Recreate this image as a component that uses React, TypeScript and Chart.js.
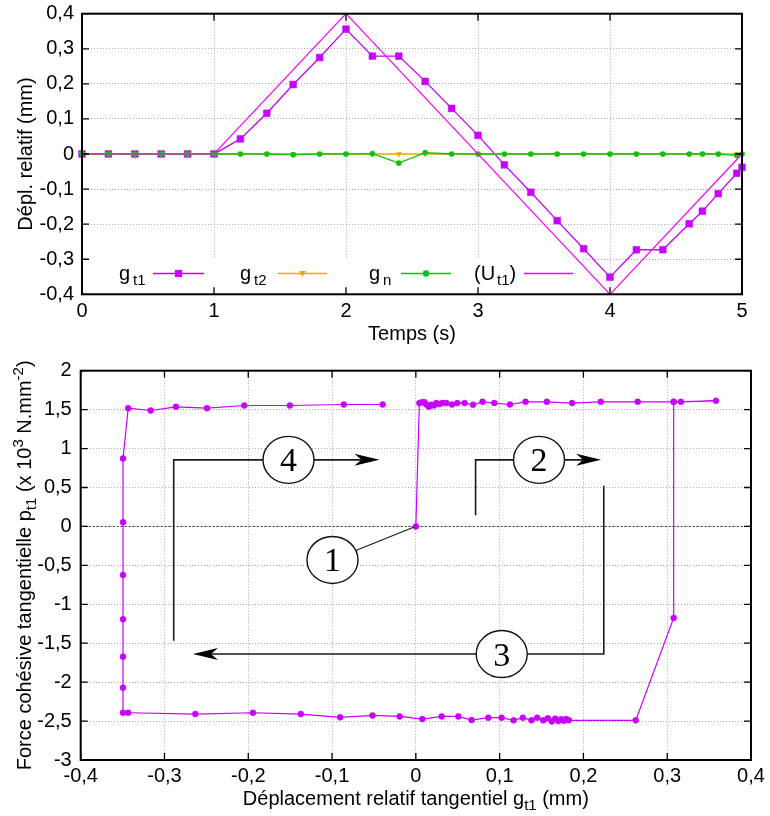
import React, { useEffect, useRef } from 'react';
import { Chart, registerables } from 'chart.js';

Chart.register(...registerables);

// ---------------- top chart data ----------------
const timeS = [0, 0.2, 0.4, 0.6, 0.8, 1, 1.2, 1.4, 1.6, 1.8, 2, 2.2, 2.4, 2.6, 2.8, 3, 3.2, 3.4, 3.6, 3.8, 4, 4.2, 4.4, 4.6, 4.7, 4.82, 4.96, 5];
const gT1 = [0, 0, 0, 0, 0, 0, 0.043, 0.116, 0.198, 0.275, 0.356, 0.279, 0.279, 0.207, 0.13, 0.053, -0.031, -0.109, -0.19, -0.27, -0.351, -0.273, -0.273, -0.199, -0.163, -0.113, -0.055, -0.038];
const gT2 = [0, 0, 0, 0, 0, 0, 0, 0, 0, 0, 0, 0, 0, 0, 0, 0, 0, 0, 0, 0, 0, 0, 0, 0, 0, 0, 0, 0];
const gN = [0, 0, 0, 0, 0, 0, 0, 0, -0.002, 0, 0, 0.001, -0.026, 0.004, 0, 0, 0, 0, 0, 0, 0, 0, 0, 0, 0, 0, -0.004, 0];
const uT1Time = [0, 1, 2, 4, 5];
const uT1 = [0, 0, 0.4, -0.4, 0];

const topXTicks = [0, 1, 2, 3, 4, 5];
const topYTicks = [-0.4, -0.3, -0.2, -0.1, 0, 0.1, 0.2, 0.3, 0.4];

// ---------------- bottom chart data ----------------
const loopG = [
  0, 0.0042, 0.0074, 0.0101, 0.0125, 0.0157, 0.0185, 0.0217, 0.0244, 0.028, 0.0316, 0.0364, 0.0431, 0.0495,
  0.0582, 0.0682, 0.0796, 0.0936, 0.1123, 0.1309, 0.1564, 0.1865, 0.2207, 0.2648, 0.3077, 0.3164, 0.3582,
  0.3077, 0.3077, 0.2624,
  0.1826, 0.1794, 0.1766, 0.1734, 0.1702, 0.1663, 0.1623, 0.1575, 0.152, 0.1448, 0.138, 0.1277, 0.1166,
  0.1023, 0.0864, 0.0666, 0.0507, 0.0308, 0.0077,
  -0.0193, -0.0518, -0.0903, -0.1373, -0.1945, -0.2632,
  -0.3433, -0.3495, -0.3495, -0.3495, -0.3495, -0.3495, -0.3495, -0.3495,
  -0.3433, -0.3165, -0.2863, -0.2493, -0.2048, -0.1504, -0.086, -0.0396,
];
const loopP = [
  0, 1.584, 1.596, 1.596, 1.566, 1.536, 1.562, 1.553, 1.584, 1.571, 1.584, 1.584, 1.566, 1.584,
  1.584, 1.562, 1.6, 1.584, 1.566, 1.6, 1.6, 1.584, 1.6, 1.6, 1.6, 1.6, 1.613,
  1.6, -1.176, -2.491,
  -2.49, -2.474, -2.496, -2.478, -2.5, -2.47, -2.504, -2.465, -2.49, -2.457, -2.491, -2.457, -2.491,
  -2.457, -2.457, -2.487, -2.44, -2.44, -2.474,
  -2.44, -2.427, -2.452, -2.41, -2.393, -2.41,
  -2.393, -2.393, -2.072, -1.673, -1.193, -0.623, 0.054, 0.872,
  1.519, 1.489, 1.536, 1.519, 1.553, 1.553, 1.566, 1.566,
];

const botXTicks = [-0.4, -0.3, -0.2, -0.1, 0, 0.1, 0.2, 0.3, 0.4];
const botYTicks = [-3, -2.5, -2, -1.5, -1, -0.5, 0, 0.5, 1, 1.5, 2];

// callouts (data coordinates of the bottom chart)
const calloutLabels = ['4', '2', '3'];
const calloutCenters = [[-0.152, 0.855], [0.147, 0.855], [0.1025, -1.639]];
const calloutLeads = [
  [[-0.289, -1.468], [-0.289, 0.855]],
  [[0.0713, 0.144], [0.0713, 0.855]],
  [[0.2243, 0.521], [0.2243, -1.639]],
];
const calloutTips = [-0.0435, 0.2211, -0.266];
const callout1Center = [-0.0995, -0.431];
const callout1Target = [0, 0];

// ---------------- styling ----------------
const SANS = "'Liberation Sans', Arial, Helvetica, sans-serif";
const SERIF = "'Liberation Serif', 'DejaVu Serif', serif";
const FS = 20;
const C_GT1 = '#c800ff';
const C_GT2 = '#ffa500';
const C_GN = '#10c010';
const C_UT1 = '#ff00ff';
const C_LOOP = '#c800ff';
const GRID = '#a8a8a8';

type Seg = { t: string; s?: 'sub' | 'sup'; dx?: number };

function segFont(size: number, s?: string) {
  return `${s ? size * 0.75 : size}px ${SANS}`;
}
function richWidth(ctx: CanvasRenderingContext2D, segs: Seg[], size: number) {
  let w = 0;
  for (const g of segs) {
    ctx.font = segFont(size, g.s);
    w += (g.dx || 0) + ctx.measureText(g.t).width;
  }
  return w;
}
function drawRich(ctx: CanvasRenderingContext2D, segs: Seg[], x: number, y: number, size: number, center: boolean) {
  let cx = center ? x - richWidth(ctx, segs, size) / 2 : x;
  ctx.textAlign = 'left';
  ctx.textBaseline = 'alphabetic';
  for (const g of segs) {
    cx += g.dx || 0;
    ctx.font = segFont(size, g.s);
    const dy = g.s === 'sub' ? size * 0.23 : g.s === 'sup' ? -size * 0.42 : 0;
    ctx.fillText(g.t, cx, y + dy);
    cx += ctx.measureText(g.t).width;
  }
}

function fmt(v: number) {
  const r = Math.round(v * 10) / 10;
  if (Math.abs(r) < 1e-9) return '0';
  return Number.isInteger(r) ? String(r) : r.toFixed(1).replace('.', ',');
}

function drawFrame(chart: any) {
  const { ctx, chartArea: a, scales } = chart;
  const xs = scales.x;
  const ys = scales.y;
  ctx.save();
  ctx.strokeStyle = '#000';
  ctx.lineWidth = 1.3;
  ctx.beginPath();
  for (const t of xs.ticks) {
    const p = xs.getPixelForValue(t.value);
    ctx.moveTo(p, a.bottom);
    ctx.lineTo(p, a.bottom - 7);
    ctx.moveTo(p, a.top);
    ctx.lineTo(p, a.top + 7);
  }
  for (const t of ys.ticks) {
    const p = ys.getPixelForValue(t.value);
    ctx.moveTo(a.left, p);
    ctx.lineTo(a.left + 7, p);
    ctx.moveTo(a.right, p);
    ctx.lineTo(a.right - 7, p);
  }
  ctx.stroke();
  ctx.lineWidth = 2;
  ctx.strokeRect(a.left, a.top, a.right - a.left, a.bottom - a.top);
  ctx.restore();
}

function drawYTitle(ctx: CanvasRenderingContext2D, segs: Seg[], x: number, cy: number) {
  ctx.save();
  ctx.translate(x, cy);
  ctx.rotate(-Math.PI / 2);
  ctx.fillStyle = '#000';
  drawRich(ctx, segs, 0, 0, FS, true);
  ctx.restore();
}

function marker(ctx: CanvasRenderingContext2D, kind: string, x: number, y: number, color: string) {
  ctx.fillStyle = color;
  ctx.beginPath();
  if (kind === 'rect') {
    ctx.rect(x - 3.6, y - 3.6, 7.2, 7.2);
  } else if (kind === 'tri') {
    ctx.moveTo(x - 3.5, y - 2.5);
    ctx.lineTo(x + 3.5, y - 2.5);
    ctx.lineTo(x, y + 3.5);
    ctx.closePath();
  } else {
    ctx.arc(x, y, 3.2, 0, Math.PI * 2);
  }
  ctx.fill();
}

const legendEntries = [
  { segs: [{ t: 'g' }, { t: 't1', s: 'sub', dx: 3 }] as Seg[], tx: 119, l0: 153, l1: 204, color: C_GT1, mk: 'rect' },
  { segs: [{ t: 'g' }, { t: 't2', s: 'sub', dx: 3 }] as Seg[], tx: 240, l0: 278, l1: 327, color: C_GT2, mk: 'tri' },
  { segs: [{ t: 'g' }, { t: 'n', s: 'sub', dx: 3 }] as Seg[], tx: 369, l0: 401, l1: 451, color: C_GN, mk: 'circle' },
  { segs: [{ t: '(U' }, { t: 't1', s: 'sub', dx: 2 }, { t: ')' }] as Seg[], tx: 474, l0: 524, l1: 573, color: C_UT1, mk: '' },
];

const topPlugin = {
  id: 'topDeco',
  beforeDatasetsDraw(chart: any) {
    const { ctx, chartArea: a } = chart;
    ctx.save();
    ctx.fillStyle = '#fff';
    ctx.fillRect(a.left, 258, 583 - a.left, a.bottom - 258);
    ctx.restore();
  },
  afterDraw(chart: any) {
    const { ctx, chartArea: a } = chart;
    drawFrame(chart);
    ctx.save();
    ctx.fillStyle = '#000';
    ctx.font = `${FS}px ${SANS}`;
    ctx.textAlign = 'center';
    ctx.textBaseline = 'alphabetic';
    ctx.fillText('Temps (s)', (a.left + a.right) / 2, 340);
    drawYTitle(ctx, [{ t: 'Dépl. relatif (mm)' }], 32, (a.top + a.bottom) / 2);
    // legend
    for (const e of legendEntries) {
      ctx.fillStyle = '#000';
      drawRich(ctx, e.segs, e.tx, 280, FS, false);
      ctx.strokeStyle = e.color;
      ctx.lineWidth = 1.3;
      ctx.beginPath();
      ctx.moveTo(e.l0, 273.5);
      ctx.lineTo(e.l1, 273.5);
      ctx.stroke();
      if (e.mk) marker(ctx, e.mk, (e.l0 + e.l1) / 2, 273.5, e.color);
    }
    ctx.restore();
  },
};

const RX = 25.5;
const RY = 23.5;

function drawBubble(ctx: CanvasRenderingContext2D, label: string, x: number, y: number) {
  ctx.beginPath();
  ctx.ellipse(x, y, RX, RY, 0, 0, Math.PI * 2);
  ctx.fillStyle = '#fff';
  ctx.fill();
  ctx.lineWidth = 1.4;
  ctx.strokeStyle = '#111';
  ctx.stroke();
  ctx.fillStyle = '#000';
  ctx.font = `34px ${SERIF}`;
  ctx.textAlign = 'center';
  ctx.textBaseline = 'alphabetic';
  ctx.fillText(label, x, y + 11.5);
}

const bottomPlugin = {
  id: 'botDeco',
  beforeDatasetsDraw(chart: any) {
    const { ctx, chartArea: a, scales } = chart;
    const y0 = scales.y.getPixelForValue(0);
    ctx.save();
    ctx.strokeStyle = '#333';
    ctx.lineWidth = 1;
    ctx.setLineDash([2, 2]);
    ctx.beginPath();
    ctx.moveTo(a.left, y0);
    ctx.lineTo(a.right, y0);
    ctx.stroke();
    ctx.restore();
  },
  afterDatasetsDraw(chart: any) {
    const { ctx, scales } = chart;
    const px = (v: number) => scales.x.getPixelForValue(v);
    const py = (v: number) => scales.y.getPixelForValue(v);
    ctx.save();
    for (let i = 0; i < calloutLabels.length; i++) {
      const cx = px(calloutCenters[i][0]);
      const cy = py(calloutCenters[i][1]);
      const lead = calloutLeads[i].map((p) => [px(p[0]), py(p[1])]);
      ctx.strokeStyle = '#1a1a1a';
      ctx.lineWidth = 1.6;
      ctx.beginPath();
      ctx.moveTo(lead[0][0], lead[0][1]);
      for (let k = 1; k < lead.length; k++) ctx.lineTo(lead[k][0], lead[k][1]);
      const last = lead[lead.length - 1];
      ctx.lineTo(last[0] < cx ? cx - RX : cx + RX, cy);
      const tip = px(calloutTips[i]);
      const dir = tip > cx ? 1 : -1;
      ctx.moveTo(cx + dir * RX, cy);
      ctx.lineTo(tip - dir * 18, cy);
      ctx.stroke();
      ctx.fillStyle = '#000';
      ctx.beginPath();
      ctx.moveTo(tip, cy);
      ctx.lineTo(tip - dir * 25, cy - 6);
      ctx.lineTo(tip - dir * 18, cy);
      ctx.lineTo(tip - dir * 25, cy + 6);
      ctx.closePath();
      ctx.fill();
      drawBubble(ctx, calloutLabels[i], cx, cy);
    }
    // callout 1
    const c1x = px(callout1Center[0]);
    const c1y = py(callout1Center[1]);
    const tx = px(callout1Target[0]);
    const ty = py(callout1Target[1]);
    const dx = tx - c1x;
    const dy = ty - c1y;
    const s = 1 / Math.sqrt((dx / RX) ** 2 + (dy / RY) ** 2);
    ctx.strokeStyle = '#1a1a1a';
    ctx.lineWidth = 1.1;
    ctx.beginPath();
    ctx.moveTo(c1x + dx * s, c1y + dy * s);
    ctx.lineTo(tx - dx * 0.02, ty - dy * 0.02);
    ctx.stroke();
    drawBubble(ctx, '1', c1x, c1y);
    ctx.restore();
  },
  afterDraw(chart: any) {
    const { ctx, chartArea: a } = chart;
    drawFrame(chart);
    ctx.save();
    ctx.fillStyle = '#000';
    drawRich(ctx, [{ t: 'Déplacement relatif tangentiel g' }, { t: 't1', s: 'sub' }, { t: ' (mm)' }], (a.left + a.right) / 2, 455, FS, true);
    drawYTitle(
      ctx,
      [
        { t: 'Force cohésive tangentielle p' },
        { t: 't1', s: 'sub' },
        { t: ' (x 10' },
        { t: '3', s: 'sup' },
        { t: ' N.mm' },
        { t: '-2', s: 'sup' },
        { t: ')' },
      ],
      31,
      (a.top + a.bottom) / 2
    );
    ctx.restore();
  },
};

function axis(min: number, max: number, ticks: number[], isX: boolean, size: number, pad: number) {
  return {
    type: 'linear',
    min,
    max,
    afterBuildTicks: (s: any) => {
      s.ticks = ticks.map((v) => ({ value: v }));
    },
    afterFit: (s: any) => {
      if (isX) s.height = size;
      else s.width = size;
      s.paddingTop = 0;
      s.paddingBottom = 0;
      s.paddingLeft = 0;
      s.paddingRight = 0;
    },
    ticks: {
      callback: (v: any) => fmt(Number(v)),
      font: { family: SANS, size: FS },
      color: '#000',
      padding: pad,
      autoSkip: false,
      maxRotation: 0,
      minRotation: 0,
    },
    grid: { color: GRID, lineWidth: 1, drawTicks: false },
    border: { display: false, dash: [1, 2] },
  };
}

function xy(xsArr: number[], ysArr: number[]) {
  return xsArr.map((x, i) => ({ x, y: ysArr[i] }));
}

export default function App() {
  const topRef = useRef<HTMLCanvasElement>(null);
  const botRef = useRef<HTMLCanvasElement>(null);

  useEffect(() => {
    const top = new Chart(topRef.current as HTMLCanvasElement, {
      type: 'line',
      data: {
        datasets: [
          { label: '(Ut1)', data: xy(uT1Time, uT1), borderColor: C_UT1, borderWidth: 1.2, pointRadius: 0, order: 0, clip: false } as any,
          { label: 'gn', data: xy(timeS, gN), borderColor: C_GN, backgroundColor: C_GN, borderWidth: 1.3, pointRadius: 2.6, pointBorderWidth: 0.5, pointStyle: 'circle', order: 1, clip: false },
          { label: 'gt2', data: xy(timeS, gT2), borderColor: C_GT2, backgroundColor: C_GT2, borderWidth: 1.3, pointRadius: 3, pointBorderWidth: 0.5, pointStyle: 'triangle', rotation: 180, order: 2, clip: false },
          { label: 'gt1', data: xy(timeS, gT1), borderColor: C_GT1, backgroundColor: C_GT1, borderWidth: 1.3, pointRadius: 4.8, pointBorderWidth: 0.5, pointStyle: 'rect', order: 3, clip: false },
        ],
      },
      options: {
        responsive: false,
        maintainAspectRatio: false,
        animation: false,
        events: [],
        layout: { padding: { left: 0, right: 28, top: 13.7, bottom: 0 } },
        elements: { line: { tension: 0 } },
        plugins: { legend: { display: false }, tooltip: { enabled: false } },
        scales: {
          x: axis(0, 5, topXTicks, true, 350 - 294.3, 5) as any,
          y: axis(-0.4, 0.4, topYTicks, false, 82, 8) as any,
        },
      },
      plugins: [topPlugin],
    });

    const bot = new Chart(botRef.current as HTMLCanvasElement, {
      type: 'line',
      data: {
        datasets: [
          { label: 'pt1', data: xy(loopG, loopP), borderColor: C_LOOP, backgroundColor: C_LOOP, borderWidth: 1.2, pointRadius: 3, pointBorderWidth: 0.5, pointStyle: 'circle', clip: false } as any,
        ],
      },
      options: {
        responsive: false,
        maintainAspectRatio: false,
        animation: false,
        events: [],
        layout: { padding: { left: 0, right: 19, top: 20.7, bottom: 0 } },
        elements: { line: { tension: 0 } },
        plugins: { legend: { display: false }, tooltip: { enabled: false } },
        scales: {
          x: axis(-0.4, 0.4, botXTicks, true, 466 - 410, 4) as any,
          y: axis(-3, 2, botYTicks, false, 80.7, 9) as any,
        },
      },
      plugins: [bottomPlugin],
    });

    return () => {
      top.destroy();
      bot.destroy();
    };
  }, []);

  return (
    <div style={{ position: 'absolute', left: 0, top: 0, width: 770, height: 816, background: '#fff' }}>
      <canvas ref={topRef} width={770} height={350} style={{ position: 'absolute', left: 0, top: 0, width: 770, height: 350 }} />
      <canvas ref={botRef} width={770} height={466} style={{ position: 'absolute', left: 0, top: 350, width: 770, height: 466 }} />
    </div>
  );
}
